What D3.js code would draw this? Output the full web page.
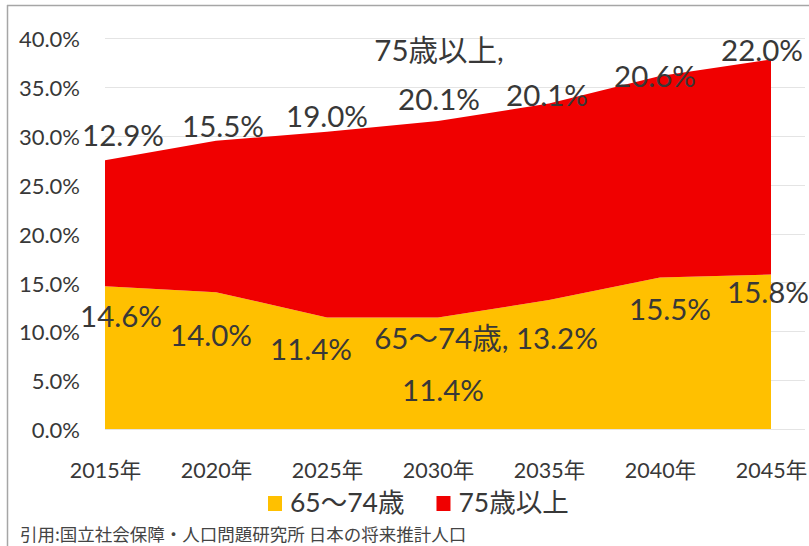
<!DOCTYPE html>
<html>
<head>
<meta charset="utf-8">
<script src="https://cdn.jsdelivr.net/npm/d3@7/dist/d3.min.js"></script>
<style>
  html, body { margin: 0; padding: 0; background: #fff; }
  svg { display: block; }
</style>
</head>
<body>
<svg id="chart" width="809" height="546"></svg>
<script>
// Projected share of population aged 65+ (Japan), by age bracket
const years = ["2015年", "2020年", "2025年", "2030年", "2035年", "2040年", "2045年"];
const age65to74 = [14.6, 14.0, 11.4, 11.4, 13.2, 15.5, 15.8];
const age75plus = [12.9, 15.5, 19.0, 20.1, 20.1, 20.6, 22.0];
const seriesNames = ["65〜74歳", "75歳以上"];
const yTicks = [0, 5, 10, 15, 20, 25, 30, 35, 40];
const sourceNote = "引用:国立社会保障・人口問題研究所  日本の将来推計人口";

const W = 809, H = 546;
const colors = ["#FFC000", "#F00000"];
const numFont = "Lato, 'Noto Sans CJK JP', sans-serif";
const textColor = "#383838";

const svg = d3.select("#chart");

const x = d3.scalePoint().domain(years).range([105, 771]);
const y = d3.scaleLinear().domain([0, 40]).range([429, 38]);

// frame
svg.append("line").attr("x1", 7.5).attr("x2", 7.5).attr("y1", 5).attr("y2", H)
  .attr("stroke", "#a6a6a6").attr("stroke-width", 1.5);
svg.append("line").attr("x1", 7).attr("x2", W).attr("y1", 5.5).attr("y2", 5.5)
  .attr("stroke", "#a6a6a6").attr("stroke-width", 1.5);

// gridlines
svg.append("g").selectAll("line").data(yTicks).join("line")
  .attr("x1", 105).attr("x2", 805)
  .attr("y1", d => Math.round(y(d)) + 0.5).attr("y2", d => Math.round(y(d)) + 0.5)
  .attr("stroke", "#e4e4e4").attr("stroke-width", 1);

// stacked areas
const rows = years.map((yr, i) => ({ year: yr, a: age65to74[i], b: age75plus[i] }));
const stacked = d3.stack().keys(["a", "b"])(rows);

const area = d3.area()
  .x(d => x(d.data.year))
  .y0(d => y(d[0]))
  .y1(d => y(d[1]));

svg.append("g").selectAll("path").data(stacked).join("path")
  .attr("d", area)
  .attr("fill", (d, i) => colors[i]);

// y axis
const yAxis = d3.axisLeft(y).tickValues(yTicks).tickSize(0).tickPadding(0)
  .tickFormat(d => d.toFixed(1) + "%");
const gy = svg.append("g").attr("transform", "translate(80,1)").call(yAxis);
gy.select(".domain").remove();
gy.selectAll("text").attr("font-family", numFont).attr("font-size", 22)
  .attr("fill", textColor).attr("dy", "0.35em");

// x axis
const xAxis = d3.axisBottom(x).tickSize(0).tickPadding(0);
const gx = svg.append("g").attr("transform", "translate(0,470)").call(xAxis);
gx.select(".domain").remove();
gx.selectAll("text").attr("font-family", numFont).attr("font-size", 21.5)
  .attr("fill", textColor).attr("dy", "0.35em");

// data labels: offsets from each point (px)
const offA = [[16, 30], [-5, 44], [-16, 32], [5, 73], [-63, 39], [10, 32], [-3, 18]];
const offB = [[18, -25], [7, -14], [0, -15], [1, -21], [-2, -8], [-5, 1], [-9, -9]];
const fmt = v => v.toFixed(1) + "%";

const labels = svg.append("g").attr("font-family", numFont).attr("font-size", 29.5)
  .attr("fill", textColor).attr("text-anchor", "middle");

stacked[0].forEach((d, i) => {
  const t = i === 4 ? seriesNames[0] + ", " + fmt(age65to74[i]) : fmt(age65to74[i]);
  labels.append("text")
    .attr("x", x(d.data.year) + offA[i][0])
    .attr("y", y(d[1]) + offA[i][1])
    .attr("dy", "0.35em")
    .text(t);
});

stacked[1].forEach((d, i) => {
  const px = x(d.data.year) + offB[i][0];
  const py = y(d[1]) + offB[i][1];
  if (i === 3) {
    labels.append("text").attr("x", px).attr("y", py - 49).attr("dy", "0.35em")
      .text(seriesNames[1] + ",");
  }
  labels.append("text").attr("x", px).attr("y", py).attr("dy", "0.35em")
    .text(fmt(age75plus[i]));
});

// legend
const legend = svg.append("g").attr("transform", "translate(268,503)");
let lx = 0;
seriesNames.forEach((name, i) => {
  const g = legend.append("g").attr("transform", `translate(${lx},0)`);
  g.append("rect").attr("x", 0).attr("y", -7).attr("width", 14).attr("height", 15)
    .attr("fill", colors[i]);
  const t = g.append("text").attr("x", 22).attr("dy", "0.35em")
    .attr("font-family", numFont).attr("font-size", 26.5).attr("fill", textColor)
    .text(name);
  lx += 22 + t.node().getComputedTextLength() + 32;
});

// source note
svg.append("text").attr("x", 20).attr("y", 535).attr("dy", "0.35em")
  .attr("font-family", "'Noto Sans CJK JP', sans-serif").attr("font-size", 17.5)
  .attr("fill", "#444").text(sourceNote);
</script>
</body>
</html>
